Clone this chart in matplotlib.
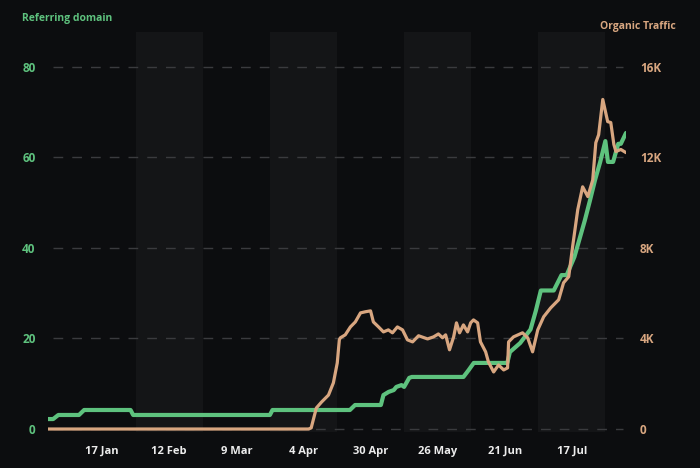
import pandas as pd
import matplotlib
import matplotlib.pyplot as plt

matplotlib.use('Agg')

plt.rcParams['font.family'] = ['Open Sans', 'DejaVu Sans']
plt.rcParams['font.weight'] = 'bold'

# Couleurs
bg_color = '#0c0d0f'
band_color = '#141517'
grid_color = '#3a3b3e'
green = '#5ec27e'
tan = '#d8a680'
label_color = '#ececec'

start = pd.Timestamp('2023-12-27')

# Referring domain (jours depuis le début, valeurs)
domain_day = [0, 2, 4, 12, 14, 32, 33, 86, 87, 117, 119, 129, 130, 132, 134, 135,
              137, 138, 140, 141, 161, 163, 165, 178, 179, 183, 187, 189, 191, 196,
              199, 201, 204, 206, 208, 210, 212, 214, 216, 217, 219, 221, 222, 224]
domain_val = [2.2, 2.2, 3.1, 3.1, 4.2, 4.2, 3.1, 3.1, 4.2, 4.2, 5.3, 5.3, 7.5, 8.2, 8.6, 9.3,
              9.7, 9.3, 11.3, 11.5, 11.5, 13, 14.6, 14.6, 17, 19, 22, 26, 30.6, 30.6,
              34, 34, 38, 42, 46, 50.4, 55, 59, 63.6, 59, 59, 63, 63, 65.4]

# Organic traffic en milliers
traffic_day = [0, 101, 102, 104, 106, 108.7, 110.6, 112.1, 112.9, 113.3, 115.2, 117.2,
               119.1, 121.1, 123, 125, 126.1, 128.1, 130, 131.9, 133.5, 135.4, 137.4,
               139.3, 141.3, 143.6, 147.1, 149.4, 151.3, 152.9, 154.1, 155.6, 157.2,
               158.3, 159.5, 161, 162.6, 163.8, 164.9, 166.5, 167.6, 169.6, 170.7,
               172.7, 174.6, 176.6, 178.1, 178.5, 180.4, 183.9, 185.9, 187.8, 189.8,
               192.1, 194.8, 197.9, 199.8, 201.8, 203.3, 205.3, 207.2, 209.2, 211.1,
               212.3, 213.4, 215, 216.9, 218.1, 219.3, 220.1, 222, 224]
traffic_val = [0, 0, 0.05, 0.93, 1.19, 1.5, 2.04, 2.92, 3.94, 4.03, 4.16, 4.51,
               4.73, 5.13, 5.18, 5.22, 4.73, 4.51, 4.29, 4.38, 4.25, 4.51, 4.38,
               3.94, 3.85, 4.12, 3.98, 4.07, 4.20, 4.03, 4.16, 3.5, 4.07,
               4.69, 4.25, 4.6, 4.29, 4.69, 4.82, 4.69, 3.85, 3.41, 2.96,
               2.52, 2.83, 2.61, 2.70, 3.85, 4.07, 4.25, 4.03, 3.41, 4.38,
               4.96, 5.35, 5.71, 6.46, 6.73, 8.05, 9.69, 10.7, 10.27, 11.0,
               12.65, 13.0, 14.56, 13.58, 13.54, 12.57, 12.26, 12.35, 12.21]

tick_dates = ['2024-01-17', '2024-02-12', '2024-03-09', '2024-04-04',
              '2024-04-30', '2024-05-26', '2024-06-21', '2024-07-17']
tick_labels = ['17 Jan', '12 Feb', '9 Mar', '4 Apr', '30 Apr', '26 May', '21 Jun', '17 Jul']
band_centers = ['2024-02-12', '2024-04-04', '2024-05-26', '2024-07-17']

left_ticks = [0, 20, 40, 60, 80]
right_ticks = [0, 4, 8, 12, 16]
right_labels = ['0', '4K', '8K', '12K', '16K']

domain_dates = [start + pd.Timedelta(days=d) for d in domain_day]
traffic_dates = [start + pd.Timedelta(days=d) for d in traffic_day]

fig = plt.figure(figsize=(7, 4.68), dpi=100, facecolor=bg_color)
ax = fig.add_axes([48 / 700, 1 - 432 / 468, 578 / 700, 400 / 468])
ax.set_facecolor(bg_color)
ax2 = ax.twinx()

ymin, ymax = -0.66, 87.7
ax.set_ylim(ymin, ymax)
ax2.set_ylim(ymin * 0.2, ymax * 0.2)
ax.set_xlim(start, start + pd.Timedelta(days=224))

# Bandes de fond
for c in band_centers:
    c = pd.Timestamp(c)
    ax.axvspan(c - pd.Timedelta(days=13), c + pd.Timedelta(days=13),
               color=band_color, lw=0, zorder=0)

# Grille pointillée
for y in left_ticks:
    ax.axhline(y, xmin=5 / 578, xmax=575 / 578, color=grid_color, lw=1,
               dashes=(7, 6.5), zorder=1)

ax.plot(domain_dates, domain_val, color=green, lw=3, solid_joinstyle='round',
        solid_capstyle='round', zorder=3)
ax2.plot(traffic_dates, traffic_val, color=tan, lw=2.3, solid_joinstyle='round',
         solid_capstyle='round', zorder=3)

ax.set_xticks([pd.Timestamp(d) for d in tick_dates])
ax.set_xticklabels(tick_labels, color=label_color, fontsize=8, fontweight='bold')
ax.set_yticks(left_ticks)
ax.set_yticklabels([str(v) for v in left_ticks], color=green, fontsize=8.5, fontweight='bold')
ax2.set_yticks(right_ticks)
ax2.set_yticklabels(right_labels, color=tan, fontsize=8.5, fontweight='bold')

ax.tick_params(axis='x', length=0, pad=10)
ax.tick_params(axis='y', length=0, pad=9)
ax2.tick_params(axis='y', length=0, pad=10)

for a in (ax, ax2):
    for s in a.spines.values():
        s.set_visible(False)

fig.text(22 / 700, 1 - 19 / 468, 'Referring domain', color=green, fontsize=7.5,
         fontweight='bold', ha='left', va='center')
fig.text(600 / 700, 1 - 27 / 468, 'Organic Traffic', color=tan, fontsize=7.5,
         fontweight='bold', ha='left', va='center')

fig.savefig('out.png', dpi=100, facecolor=bg_color)
